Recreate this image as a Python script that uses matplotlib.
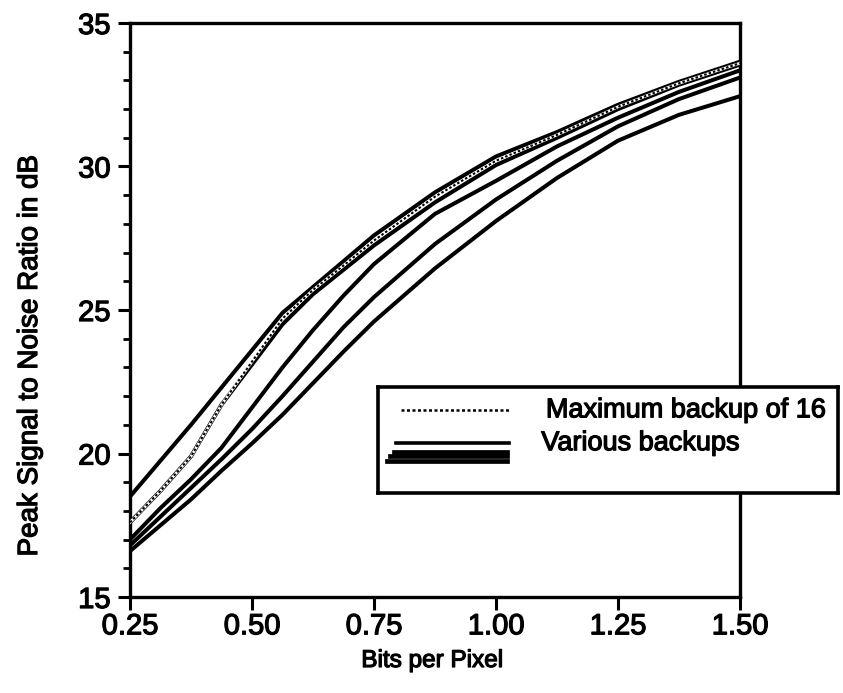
import matplotlib
matplotlib.use("Agg")
import matplotlib.pyplot as plt
import matplotlib.patheffects as pe
from matplotlib.ticker import MultipleLocator

plt.rcParams['font.family'] = ['Liberation Sans', 'DejaVu Sans']

# Bit rate (bits per pixel) at which each curve was sampled
bpp = [0.25, 0.3125, 0.375, 0.4375, 0.5, 0.5625, 0.625, 0.6875, 0.75,
       0.875, 1.0, 1.125, 1.25, 1.375, 1.5]

# PSNR (dB) for the run with the maximum backup of 16
psnr_max16 = [17.6, 18.7, 19.9, 21.7, 23.2, 24.7, 25.7, 26.55, 27.42,
              28.95, 30.2, 31.1, 32.08, 32.9, 33.6]

# PSNR (dB) for the various other backup settings
psnr_backups = [
    [18.5, 19.75, 21.0, 22.3, 23.6, 24.9, 25.8, 26.7, 27.6, 29.1, 30.35, 31.2, 32.15, 32.95, 33.65],
    [17.6, 18.7, 19.9, 21.7, 23.1, 24.5, 25.55, 26.4, 27.25, 28.75, 30.05, 31.0, 32.0, 32.85, 33.55],
    [17.0, 18.1, 19.1, 20.2, 21.6, 23.0, 24.3, 25.5, 26.6, 28.35, 29.5, 30.7, 31.7, 32.6, 33.35],
    [16.8, 17.8, 18.8, 19.8, 20.85, 22.0, 23.2, 24.4, 25.45, 27.3, 28.85, 30.2, 31.4, 32.35, 33.1],
    [16.6, 17.5, 18.4, 19.4, 20.35, 21.35, 22.45, 23.55, 24.6, 26.45, 28.1, 29.6, 30.9, 31.8, 32.45],
]

xticks = [0.25, 0.50, 0.75, 1.00, 1.25, 1.50]
xtick_labels = ["0.25", "0.50", "0.75", "1.00", "1.25", "1.50"]
yticks = [15, 20, 25, 30, 35]

heavy = [pe.withStroke(linewidth=0.9, foreground='black')]

W, H = 843, 693
fig = plt.figure(figsize=(W / 100, H / 100), dpi=100)
ax = fig.add_axes([130 / W, 1 - 597 / H, (740 - 130) / W, (597 - 23) / H])

for ys in psnr_backups:
    ax.plot(bpp, ys, color='black', lw=2.9, solid_capstyle='round',
            solid_joinstyle='round', zorder=3)
ax.plot(bpp, psnr_max16, color='white', lw=2.0, zorder=4)
ax.plot(bpp, psnr_max16, color='black', lw=1.5, linestyle=(0, (1.2, 1.0)), zorder=5)

ax.set_xlim(0.25, 1.5)
ax.set_ylim(15, 35)
ax.set_xticks(xticks)
ax.set_xticklabels(xtick_labels)
ax.set_yticks(yticks)
ax.yaxis.set_minor_locator(MultipleLocator(1))

for s in ax.spines.values():
    s.set_linewidth(2.4)
ax.tick_params(axis='both', which='major', direction='out', length=9, width=2.2,
               labelsize=21)
ax.tick_params(axis='x', which='major', pad=2)
ax.tick_params(axis='y', which='major', pad=5)
ax.tick_params(axis='y', which='minor', direction='out', length=5, width=2.0)
ax.tick_params(axis='x', which='minor', length=0)
for lab in ax.get_xticklabels() + ax.get_yticklabels():
    lab.set_path_effects(heavy)

fig.text(432 / W, 1 - 661 / H, "Bits per Pixel", ha='center', va='center',
         fontsize=17.5, path_effects=heavy)
fig.text(30 / W, 1 - 356 / H, "Peak Signal to Noise Ratio in dB", ha='center',
         va='center', rotation=90, fontsize=20, path_effects=heavy)

# Legend panel, overlapping the right edge of the plot frame
lg = fig.add_axes([378 / W, 1 - 493 / H, (838 - 378) / W, (493 - 387) / H])
lg.set_xlim(0, 1)
lg.set_ylim(0, 1)
lg.set_xticks([])
lg.set_yticks([])
lg.set_facecolor('white')
for s in lg.spines.values():
    s.set_linewidth(2.6)
lg.plot([0.05, 0.29], [0.78, 0.78], color='black', lw=1.8, linestyle=(0, (1.2, 1.0)))
lg.plot([0.04, 0.285], [0.475, 0.475], color='black', lw=2.6)
for yy, x0 in [(0.385, 0.035), (0.345, 0.025), (0.305, 0.02)]:
    lg.plot([x0, 0.28], [yy, yy], color='black', lw=3.4)
lg.text(0.365, 0.78, "Maximum backup of 16", ha='left', va='center', fontsize=19.5,
        path_effects=heavy)
lg.text(0.355, 0.47, "Various backups", ha='left', va='center', fontsize=19.5,
        path_effects=heavy)

fig.savefig("out.png", dpi=100)
